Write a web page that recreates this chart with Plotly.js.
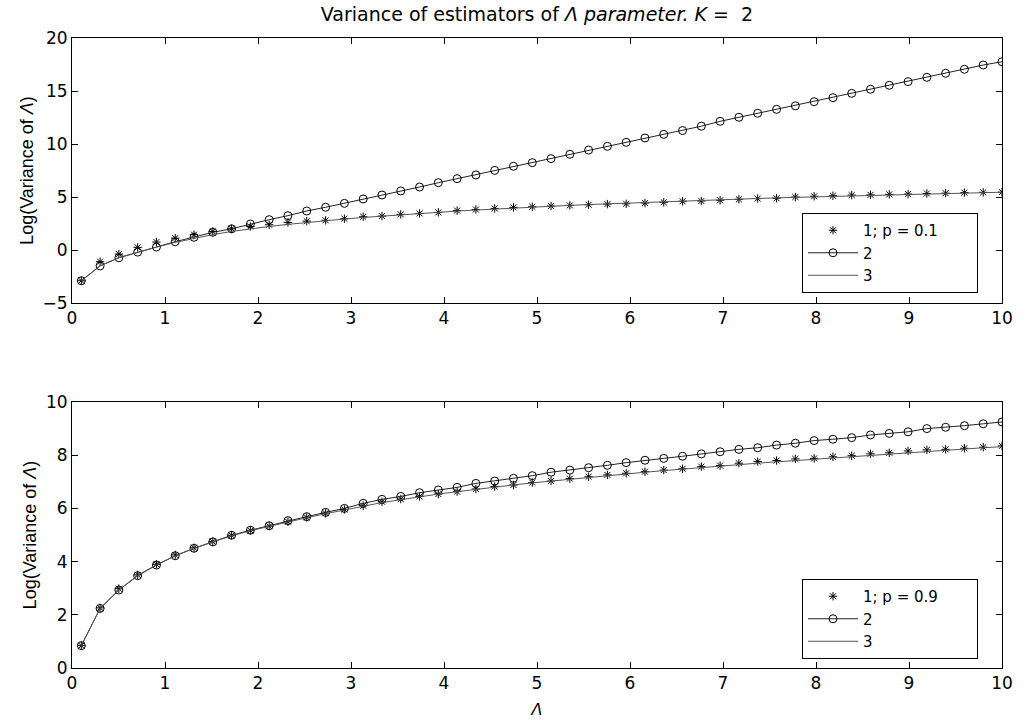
<!DOCTYPE html>
<html>
<head>
<meta charset="utf-8">
<script src="https://cdn.plot.ly/plotly-3.0.1.min.js"></script>
<style>html,body{margin:0;padding:0;background:#fff;}#chart{width:1028px;height:720px;}</style>
</head>
<body>
<div id="chart"></div>
<script>
// Lambda values (50 points from 0.1 to 10)
var lambdaX = [0.1, 0.302, 0.504, 0.706, 0.908, 1.110, 1.312, 1.514, 1.716, 1.918,
  2.120, 2.322, 2.524, 2.727, 2.929, 3.131, 3.333, 3.535, 3.737, 3.939,
  4.141, 4.343, 4.545, 4.747, 4.949, 5.151, 5.353, 5.555, 5.757, 5.959,
  6.161, 6.363, 6.565, 6.767, 6.969, 7.171, 7.373, 7.576, 7.778, 7.980,
  8.182, 8.384, 8.586, 8.788, 8.990, 9.192, 9.394, 9.596, 9.798, 10.0];

// Top panel (p = 0.1)
var topS1 = [-2.9, -1.1, -0.38, 0.25, 0.75, 1.12, 1.45, 1.75, 2.0, 2.22,
  2.38, 2.6, 2.72, 2.8, 2.95, 3.14, 3.2, 3.36, 3.45, 3.55,
  3.72, 3.82, 3.92, 4.02, 4.08, 4.15, 4.21, 4.27, 4.33, 4.36,
  4.43, 4.5, 4.6, 4.62, 4.69, 4.78, 4.85, 4.88, 5.0, 5.07,
  5.12, 5.18, 5.2, 5.25, 5.28, 5.33, 5.36, 5.41, 5.44, 5.46];
var topS2 = [-2.9, -1.5, -0.73, -0.2, 0.28, 0.78, 1.2, 1.67, 2.0, 2.45,
  2.86, 3.24, 3.68, 4.03, 4.4, 4.81, 5.19, 5.57, 5.94, 6.35,
  6.73, 7.08, 7.51, 7.9, 8.24, 8.62, 9.03, 9.43, 9.78, 10.16,
  10.57, 10.91, 11.27, 11.68, 12.14, 12.52, 12.9, 13.27, 13.6, 13.99,
  14.37, 14.78, 15.16, 15.54, 15.88, 16.29, 16.67, 17.05, 17.45, 17.76];
var topS3 = [-2.9, -1.5, -0.72, -0.2, 0.27, 0.72, 1.1, 1.45, 1.75, 2.0,
  2.22, 2.42, 2.6, 2.76, 2.92, 3.07, 3.2, 3.33, 3.45, 3.56,
  3.67, 3.77, 3.87, 3.96, 4.05, 4.13, 4.21, 4.29, 4.36, 4.43,
  4.5, 4.57, 4.63, 4.69, 4.75, 4.81, 4.86, 4.92, 4.97, 5.02,
  5.07, 5.12, 5.16, 5.21, 5.25, 5.29, 5.33, 5.37, 5.41, 5.45];

// Bottom panel (p = 0.9)
var botS1 = [0.84, 2.26, 2.98, 3.5, 3.9, 4.25, 4.52, 4.75, 4.99, 5.17,
  5.33, 5.5, 5.66, 5.82, 5.96, 6.1, 6.25, 6.35, 6.45, 6.54,
  6.63, 6.73, 6.82, 6.88, 6.97, 7.03, 7.12, 7.19, 7.26, 7.32,
  7.38, 7.44, 7.49, 7.57, 7.61, 7.7, 7.76, 7.8, 7.86, 7.88,
  7.94, 7.98, 8.05, 8.09, 8.16, 8.2, 8.22, 8.26, 8.3, 8.35];
var botS2 = [0.84, 2.24, 2.93, 3.47, 3.87, 4.22, 4.5, 4.74, 4.99, 5.18,
  5.35, 5.54, 5.69, 5.85, 6.0, 6.19, 6.34, 6.45, 6.59, 6.69,
  6.79, 6.94, 7.03, 7.13, 7.23, 7.36, 7.44, 7.53, 7.62, 7.72,
  7.81, 7.88, 7.96, 8.05, 8.13, 8.22, 8.28, 8.38, 8.45, 8.55,
  8.6, 8.66, 8.76, 8.82, 8.88, 9.0, 9.05, 9.11, 9.18, 9.25];
var botS3 = [0.84, 2.24, 2.94, 3.48, 3.88, 4.22, 4.5, 4.74, 4.97, 5.16,
  5.33, 5.5, 5.65, 5.8, 5.95, 6.08, 6.22, 6.33, 6.44, 6.54,
  6.63, 6.72, 6.8, 6.88, 6.96, 7.03, 7.1, 7.17, 7.24, 7.3,
  7.36, 7.42, 7.48, 7.54, 7.6, 7.65, 7.7, 7.75, 7.8, 7.85,
  7.9, 7.95, 8.0, 8.05, 8.1, 8.14, 8.19, 8.23, 8.28, 8.32];

var seriesNames = ['1; p = 0.1', '2', '3'];
var seriesNames2 = ['1; p = 0.9', '2', '3'];
var xTicks = [0, 1, 2, 3, 4, 5, 6, 7, 8, 9, 10];
var topYTicks = [-5, 0, 5, 10, 15, 20];
var botYTicks = [0, 2, 4, 6, 8, 10];

var FONT = 'DejaVu Sans, Verdana, sans-serif';
var FONT_V = 'Liberation Sans, Arial, sans-serif';
var PAD = '\u00A0\u00A0\u00A0\u00A0\u00A0\u00A0\u00A0'; // widens the legend box

function makeTraces(ys, names, xa, ya, leg) {
  return [
    {x: lambdaX, y: ys[0], name: names[0] + PAD, mode: 'markers', type: 'scatter',
     xaxis: xa, yaxis: ya, legend: leg,
     marker: {symbol: 'asterisk-open', size: 7, color: '#000', line: {color: '#000', width: 1}}},
    {x: lambdaX, y: ys[1], name: names[1], mode: 'lines+markers', type: 'scatter',
     xaxis: xa, yaxis: ya, legend: leg,
     line: {color: '#222', width: 1},
     marker: {symbol: 'circle-open', size: 8, color: '#000', line: {color: '#000', width: 1}}},
    {x: lambdaX, y: ys[2], name: names[2], mode: 'lines', type: 'scatter',
     xaxis: xa, yaxis: ya, legend: leg,
     line: {color: '#555', width: 1}}
  ];
}

var data = makeTraces([topS1, topS2, topS3], seriesNames, 'x', 'y', 'legend')
  .concat(makeTraces([botS1, botS2, botS3], seriesNames2, 'x2', 'y2', 'legend2'));

var axBase = {
  showline: true, linecolor: '#000', linewidth: 1, mirror: 'ticks',
  ticks: 'inside', ticklen: 6, tickcolor: '#000', showgrid: false, zeroline: false,
  tickfont: {family: FONT, size: 17, color: '#000'}, fixedrange: true
};
function ax(extra) { return Object.assign({}, axBase, extra); }

var legBase = {
  xanchor: 'left', yanchor: 'bottom', bgcolor: '#fff', bordercolor: '#000', borderwidth: 1,
  font: {family: FONT, size: 15, color: '#000'}, tracegroupgap: 0,
  itemwidth: 50
};

var ytitleFont = {family: FONT_V, size: 18, color: '#000'};

var layout = {
  width: 1028, height: 720,
  margin: {l: 0, r: 0, t: 0, b: 0},
  paper_bgcolor: '#fff', plot_bgcolor: '#fff',
  showlegend: true,
  font: {family: FONT, size: 16, color: '#000'},
  title: {text: 'Variance of estimators of <i>Λ parameter. K</i> =  2',
          font: {family: FONT, size: 19, color: '#000'},
          x: 537 / 1028, xanchor: 'center', xref: 'paper',
          y: 1 - 14 / 720, yanchor: 'middle', yref: 'paper'},
  xaxis: ax({domain: [72 / 1028, 1002 / 1028], range: [0, 10], tickvals: xTicks, anchor: 'y'}),
  yaxis: ax({domain: [1 - 303 / 720, 1 - 38 / 720], range: [-5, 20], tickvals: topYTicks, anchor: 'x',
             title: {text: 'Log(Variance of <i>Λ</i>)', font: ytitleFont, standoff: 4}}),
  xaxis2: ax({domain: [72 / 1028, 1002 / 1028], range: [0, 10], tickvals: xTicks, anchor: 'y2',
              title: {text: '<i>Λ</i>', font: {family: FONT, size: 16, color: '#000'}, standoff: 11}}),
  yaxis2: ax({domain: [1 - 668 / 720, 1 - 402 / 720], range: [0, 10], tickvals: botYTicks, anchor: 'x2',
              title: {text: 'Log(Variance of <i>Λ</i>)', font: ytitleFont, standoff: 4}}),
  legend: Object.assign({}, legBase, {x: 802 / 1028, y: 1 - 293 / 720}),
  legend2: Object.assign({}, legBase, {x: 802 / 1028, y: 1 - 659 / 720})
};

Plotly.newPlot('chart', data, layout, {displayModeBar: false, staticPlot: true});
</script>
</body>
</html>
